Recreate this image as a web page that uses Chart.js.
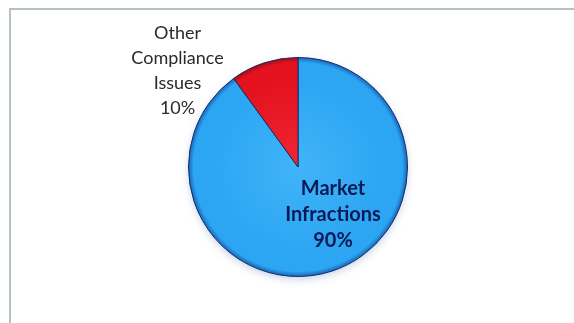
<!DOCTYPE html>
<html>
<head>
<meta charset="utf-8">
<script src="https://cdn.jsdelivr.net/npm/chart.js@4/dist/chart.umd.min.js"></script>
<style>
  html, body { margin: 0; padding: 0; background: #ffffff; }
</style>
</head>
<body>
<canvas id="myChart" width="574" height="323"></canvas>
<script>
const categories = ["Market Infractions", "Other Compliance Issues"];
const shares = [90, 10];
// label text lines per slice (last line is the percentage)
const labelLines = [["Market", "Infractions"], ["Other", "Compliance", "Issues"]];
const sliceColors = [
    ["#40b4f8", "#2ca5f2", "#1560b4"],
    ["#f02634", "#e4121f", "#9c0a18"],
];

// radial shading so each slice gets a lighter middle and darker rim
function shade(context) {
    const chart = context.chart;
    const c = sliceColors[context.dataIndex];
    const area = chart.chartArea;
    if (!area) return c[1];
    const x = (area.left + area.right) / 2;
    const y = (area.top + area.bottom) / 2;
    const r = Math.min(area.right - area.left, area.bottom - area.top) / 2;
    const g = chart.ctx.createRadialGradient(x, y, 0, x, y, r);
    g.addColorStop(0, c[0]);
    g.addColorStop(0.8, c[1]);
    g.addColorStop(0.95, c[1]);
    g.addColorStop(1, c[2]);
    return g;
}

// outer frame, only top and left edges are inside the canvas
const framePlugin = {
    id: "frame",
    beforeDraw(chart) {
        const ctx = chart.ctx;
        ctx.save();
        ctx.strokeStyle = "#b4c2be";
        ctx.lineWidth = 2;
        ctx.beginPath();
        ctx.moveTo(10, chart.height + 2);
        ctx.lineTo(10, 9);
        ctx.lineTo(chart.width + 2, 9);
        ctx.stroke();
        ctx.restore();
    },
    beforeDatasetsDraw(chart) {
        // soft glow under the pie
        const arc = chart.getDatasetMeta(0).data[0];
        const ctx = chart.ctx;
        ctx.save();
        ctx.shadowColor = "rgba(60,110,170,0.35)";
        ctx.shadowBlur = 8;
        ctx.shadowOffsetY = 3;
        ctx.fillStyle = "#ffffff";
        ctx.beginPath();
        ctx.arc(arc.x, arc.y, arc.outerRadius - 1, 0, Math.PI * 2);
        ctx.fill();
        ctx.restore();
    }
};

// slice labels with percentages
const sliceLabels = {
    id: "sliceLabels",
    afterDatasetsDraw(chart, args, opts) {
        const ctx = chart.ctx;
        const meta = chart.getDatasetMeta(0);
        const values = chart.data.datasets[0].data;
        const total = values.reduce((a, b) => a + b, 0);
        meta.data.forEach((arc, i) => {
            const style = opts.styles[i];
            const lines = labelLines[i].concat([Math.round(values[i] / total * 100) + "%"]);
            const cx = arc.x + style.dx * arc.outerRadius;
            const cy = arc.y + style.dy * arc.outerRadius;
            ctx.save();
            ctx.font = style.font;
            ctx.fillStyle = style.color;
            ctx.textAlign = "center";
            ctx.textBaseline = "middle";
            const top = cy - (lines.length - 1) * style.lineHeight / 2;
            lines.forEach((t, k) => ctx.fillText(t, cx, top + k * style.lineHeight));
            ctx.restore();
        });
    }
};

const ctx = document.getElementById("myChart");
const myChart = new Chart(ctx, {
    type: "pie",
    data: {
        labels: categories,
        datasets: [
            {
                data: shares,
                backgroundColor: shade,
                borderColor: "#1c2a62",
                borderWidth: 1,
            },
        ],
    },
    options: {
        responsive: false,
        animation: false,
        layout: { padding: { top: 57, bottom: 46, left: 22, right: 0 } },
        plugins: {
            legend: { display: false },
            tooltip: { enabled: false },
            sliceLabels: {
                styles: [
                    { dx: 0.32, dy: 0.43, font: "bold 20px Lato", color: "#0b1a55", lineHeight: 26 },
                    { dx: -1.1, dy: -0.88, font: "18px Lato", color: "#2a2a2a", lineHeight: 25 },
                ],
            },
        },
    },
    plugins: [framePlugin, sliceLabels],
});
</script>
</body>
</html>
